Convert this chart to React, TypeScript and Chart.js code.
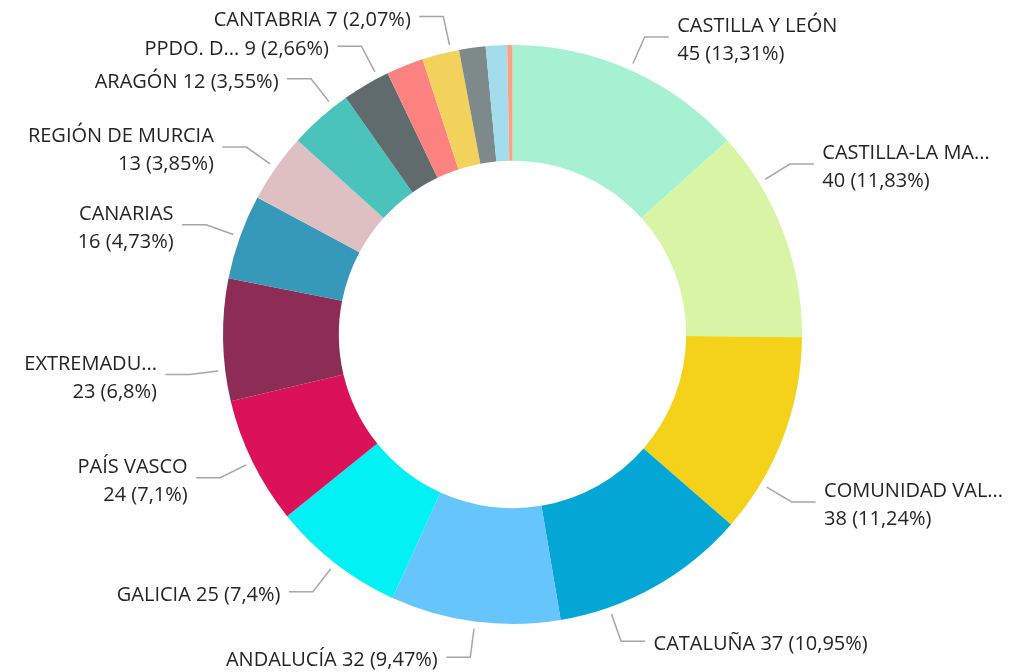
import React, { useEffect, useRef } from "react";
import { Chart, registerables } from "chart.js";

Chart.register(...registerables);

// ---- data ----
const regions = [
  "CASTILLA Y LEÓN",
  "CASTILLA-LA MANCHA",
  "COMUNIDAD VALENCIANA",
  "CATALUÑA",
  "ANDALUCÍA",
  "GALICIA",
  "PAÍS VASCO",
  "EXTREMADURA",
  "CANARIAS",
  "REGIÓN DE MURCIA",
  "ARAGÓN",
  "PPDO. DE ASTURIAS",
  "ILLES BALEARS",
  "CANTABRIA",
  "C. FORAL DE NAVARRA",
  "LA RIOJA",
  "CEUTA",
];
const counts = [45, 40, 38, 37, 32, 25, 24, 23, 16, 13, 12, 9, 7, 7, 5, 4, 1];
// names as they appear (truncated) in the data labels; null = label hidden
const labelNames: (string | null)[] = [
  "CASTILLA Y LEÓN",
  "CASTILLA-LA MA...",
  "COMUNIDAD VAL...",
  "CATALUÑA",
  "ANDALUCÍA",
  "GALICIA",
  "PAÍS VASCO",
  "EXTREMADU...",
  "CANARIAS",
  "REGIÓN DE MURCIA",
  "ARAGÓN",
  "PPDO. D...",
  null,
  "CANTABRIA",
  null,
  null,
  null,
];

// ---- label layout / style ----
const labelWrap = [true, true, true, false, false, false, true, true, true, true, false, false, false, false, false, false, false];
const labelAngleShift = [0, -10.8, 10.2, 9.8, 0, 0, 0, -6, 0, 0, 3.3, 2.7, 0, 2.1, 0, 0, 0];
const colors = [
  "#A7F1D3",
  "#D7F5A5",
  "#F5D21A",
  "#04A6D6",
  "#66C5FA",
  "#02F1F5",
  "#DB1258",
  "#8D2C55",
  "#3799B9",
  "#DEBFC2",
  "#4AC4BB",
  "#5F6B6C",
  "#FC8280",
  "#F2D25A",
  "#7E898A",
  "#A3DCEC",
  "#FDA183",
];
const TEXT_COLOR = "#252423";
const LEADER_COLOR = "#a6a6a6";
const FONT = "20px 'Open Sans'";

function formatPct(p: number): string {
  return (Math.round(p * 100) / 100).toString().replace(".", ",");
}

const labelPlugin = {
  id: "pbiLabels",
  afterDatasetsDraw(chart: any) {
    const ctx: CanvasRenderingContext2D = chart.ctx;
    const meta = chart.getDatasetMeta(0);
    const total = counts.reduce((a, b) => a + b, 0);
    ctx.save();
    meta.data.forEach((arc: any, i: number) => {
      const name = labelNames[i];
      if (!name) return;
      const { x: cx, y: cy, startAngle, endAngle, outerRadius } = arc.getProps(
        ["x", "y", "startAngle", "endAngle", "outerRadius"],
        true
      );
      const a = (startAngle + endAngle) / 2 + (labelAngleShift[i] * Math.PI) / 180;
      const cos = Math.cos(a);
      const sin = Math.sin(a);
      const sx = cx + (outerRadius + 7) * cos;
      const sy = cy + (outerRadius + 7) * sin;
      const ex = cx + (outerRadius + 36) * cos;
      const ey = cy + (outerRadius + 36) * sin;
      const right = cos >= 0;
      const hx = ex + (right ? 24 : -24);
      ctx.strokeStyle = LEADER_COLOR;
      ctx.lineWidth = 1.5;
      ctx.beginPath();
      ctx.moveTo(sx, sy);
      ctx.lineTo(ex, ey);
      ctx.lineTo(hx, ey);
      ctx.stroke();

      const tx = hx + (right ? 8.5 : -8.5);
      ctx.textAlign = right ? "left" : "right";
      ctx.textBaseline = "alphabetic";
      ctx.font = FONT;
      ctx.fillStyle = TEXT_COLOR;
      const value = counts[i];
      const valueText = `${value} (${formatPct((value / total) * 100)}%)`;
      const capHalf = 7.15;
      const mid = ey + 2;
      if (labelWrap[i]) {
        ctx.fillText(name, tx, mid - 13.9 + capHalf);
        ctx.fillText(valueText, tx, mid + 13.9 + capHalf);
      } else {
        ctx.fillText(`${name} ${valueText}`, tx, mid + capHalf);
      }
    });
    ctx.restore();
  },
};

export default function App() {
  const canvasRef = useRef<HTMLCanvasElement | null>(null);

  useEffect(() => {
    if (!canvasRef.current) return;
    const chart = new Chart(canvasRef.current, {
      type: "doughnut",
      data: {
        labels: regions,
        datasets: [
          {
            data: counts,
            backgroundColor: colors,
            borderWidth: 0,
            hoverOffset: 0,
          },
        ],
      },
      options: {
        responsive: false,
        animation: false,
        devicePixelRatio: 1,
        cutout: "60%",
        layout: { padding: { left: 223, right: 215, top: 45, bottom: 48 } },
        plugins: {
          legend: { display: false },
          tooltip: { enabled: false },
        },
      },
      plugins: [labelPlugin],
    } as any);
    return () => chart.destroy();
  }, []);

  return (
    <div style={{ position: "absolute", left: 0, top: 0, width: 1017, height: 672, background: "#ffffff" }}>
      <canvas ref={canvasRef} width={1017} height={672} style={{ display: "block" }} />
    </div>
  );
}
